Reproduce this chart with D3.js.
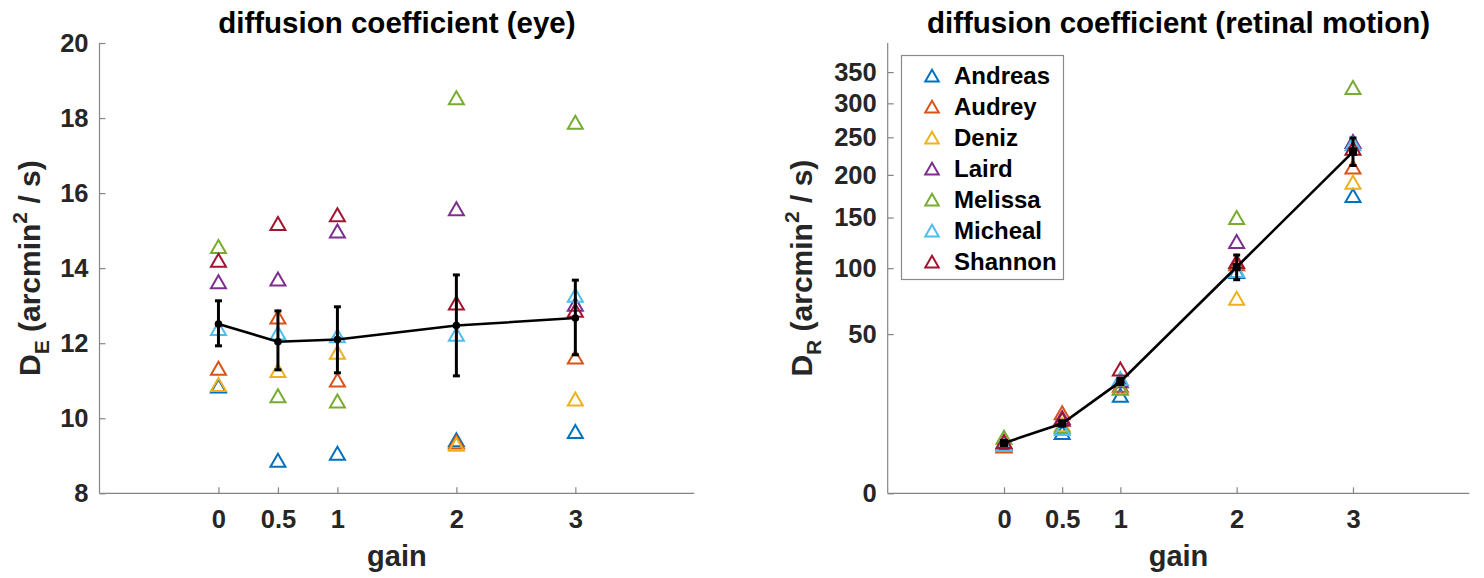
<!DOCTYPE html>
<html><head><meta charset="utf-8">
<script src="https://cdn.jsdelivr.net/npm/d3@7"></script>
<style>
body{margin:0;background:#fff}
svg{display:block}
text{font-family:"Liberation Sans",Arial,Helvetica,sans-serif;font-weight:bold}
</style>
</head><body>
<svg id="chart" width="1484" height="578"></svg>
<script>
// ---------- data ----------
const gains = [0, 0.5, 1, 2, 3];
const gainLabels = ["0", "0.5", "1", "2", "3"];
const subjects = ["Andreas", "Audrey", "Deniz", "Laird", "Melissa", "Micheal", "Shannon"];
const colors = ["#0072BD", "#D95319", "#EDB120", "#7E2F8E", "#77AC30", "#4DBEEE", "#A2142F"];

// eye diffusion coefficient (arcmin^2/s)
const eyeAndreas = [10.86, 8.88, 9.07, 9.43, 9.65];
const eyeAudrey  = [11.33, 12.70, 11.02, 9.37, 11.63];
const eyeDeniz   = [10.90, 11.27, 11.76, 9.31, 10.51];
const eyeLaird   = [13.64, 13.71, 14.99, 15.58, 13.04];
const eyeMelissa = [14.58, 10.60, 10.46, 18.54, 17.89];
const eyeMicheal = [12.39, 12.27, 12.20, 12.24, 13.28];
const eyeShannon = [14.21, 15.19, 15.42, 13.07, 12.88];
const eyeMean = [12.51, 12.04, 12.10, 12.47, 12.67];
const eyeLow  = [11.93, 11.29, 11.21, 11.13, 11.69];
const eyeHigh = [13.13, 12.86, 12.97, 13.82, 13.68];
const eyeTicks = [8, 10, 12, 14, 16, 18, 20];

// retinal motion diffusion coefficient (arcmin^2/s)
const retAndreas = [4.6, 7.3, 19.0, 97, 175];
const retAudrey  = [4.4, 12.8, 23.0, 104, 210];
const retDeniz   = [4.7, 9.3, 22.0, 75, 191];
const retLaird   = [5.0, 11.3, 25.0, 125, 244];
const retMelissa = [6.2, 8.8, 21.8, 150, 325];
const retMicheal = [4.7, 8.3, 26.0, 98, 241];
const retShannon = [5.3, 10.8, 30.5, 106, 235];
const retMean = [5.0, 9.6, 24.6, 101, 230];
const retLow  = [4.6, 9.0, 23.4, 90, 212];
const retHigh = [5.4, 10.3, 26.0, 112, 249];
const retTicks = [0, 50, 100, 150, 200, 250, 300, 350];

const eyeSeries = [eyeAndreas, eyeAudrey, eyeDeniz, eyeLaird, eyeMelissa, eyeMicheal, eyeShannon];
const retSeries = [retAndreas, retAudrey, retDeniz, retLaird, retMelissa, retMicheal, retShannon];

// ---------- drawing ----------
const svg = d3.select("#chart");
const AXIS = "#858585", TXT = "#262626";
const tri = "M0,-6.5L7.5,6.5L-7.5,6.5Z";

function panel(opt) {
  const x = d3.scaleLinear().domain([-1, 4]).range([opt.x0, opt.x1]);
  const y = opt.y;
  const g = svg.append("g");

  // axes
  const xa = g.append("g").attr("transform", `translate(0,${opt.yb})`)
    .call(d3.axisBottom(x).tickValues(gains).tickFormat((d, i) => gainLabels[i]).tickSize(-6).tickPadding(12));
  const ya = g.append("g").attr("transform", `translate(${opt.x0},0)`)
    .call(d3.axisLeft(y).tickValues(opt.ticks).tickFormat(d3.format("d")).tickSize(-6).tickPadding(11));
  [xa, ya].forEach(a => {
    a.select(".domain").attr("stroke", AXIS).attr("stroke-width", 1.2);
    a.selectAll(".tick line").attr("stroke", AXIS).attr("stroke-width", 1.2);
    a.selectAll(".tick text").attr("fill", TXT).style("font-size", "25.5px")
      .style("font-family", '"Liberation Sans",Arial,sans-serif').style("font-weight", "bold");
  });
  xa.selectAll(".tick text").attr("dy", "0.71em").attr("y", 17);
  xa.select(".domain").attr("d", `M${opt.x0},0H${opt.x1}`);
  ya.select(".domain").attr("d", `M0,${opt.yb}V${opt.yt}`);

  // scatter triangles
  opt.series.forEach((vals, si) => {
    g.append("g").selectAll("path").data(vals).join("path")
      .attr("d", tri)
      .attr("transform", (d, i) => `translate(${x(gains[i])},${y(d)})`)
      .attr("fill", "none").attr("stroke", colors[si]).attr("stroke-width", 2);
  });

  // mean line
  g.append("path").datum(opt.mean)
    .attr("d", d3.line().x((d, i) => x(gains[i])).y(d => y(d)))
    .attr("fill", "none").attr("stroke", "#000").attr("stroke-width", 2.6);
  // error bars
  const eb = g.append("g");
  gains.forEach((gv, i) => {
    const cx = x(gv);
    eb.append("line").attr("x1", cx).attr("x2", cx).attr("y1", y(opt.low[i])).attr("y2", y(opt.high[i]))
      .attr("stroke", "#000").attr("stroke-width", 3);
    [opt.low[i], opt.high[i]].forEach(v => {
      eb.append("line").attr("x1", cx - 3.5).attr("x2", cx + 3.5).attr("y1", y(v)).attr("y2", y(v))
        .attr("stroke", "#000").attr("stroke-width", 3);
    });
  });
  // mean markers
  if (opt.square) {
    g.append("g").selectAll("rect").data(opt.mean).join("rect")
      .attr("x", (d, i) => x(gains[i]) - 4).attr("y", d => y(d) - 4)
      .attr("width", 8).attr("height", 8).attr("fill", "#000");
  } else {
    g.append("g").selectAll("circle").data(opt.mean).join("circle")
      .attr("cx", (d, i) => x(gains[i])).attr("cy", d => y(d)).attr("r", 3.8).attr("fill", "#000");
  }

  // title
  g.append("text").attr("x", (opt.x0 + opt.x1) / 2).attr("y", 33).attr("text-anchor", "middle")
    .style("font-size", "29.5px").attr("fill", "#000").text(opt.title);
  // x label
  g.append("text").attr("x", (opt.x0 + opt.x1) / 2).attr("y", 566).attr("text-anchor", "middle")
    .style("font-size", "29px").attr("fill", TXT).text("gain");
  // y label
  const yl = g.append("text").attr("transform", `translate(${opt.ylx},${(opt.yb + opt.yt) / 2}) rotate(-90)`)
    .attr("text-anchor", "middle").style("font-size", "30px").attr("fill", TXT);
  yl.append("tspan").text("D");
  yl.append("tspan").attr("dy", 9).style("font-size", "21px").text(opt.sub);
  yl.append("tspan").attr("dy", -9).text(" (arcmin");
  yl.append("tspan").attr("dy", -13).style("font-size", "21px").text("2");
  yl.append("tspan").attr("dy", 13).text(" / s)");
  return { x, y };
}

panel({
  x0: 99.5, x1: 694.3, yb: 493.3, yt: 43,
  y: d3.scaleLinear().domain([8, 20]).range([493.3, 43]),
  ticks: eyeTicks, series: eyeSeries, mean: eyeMean, low: eyeLow, high: eyeHigh,
  title: "diffusion coefficient (eye)", sub: "E", ylx: 40, square: false
});
panel({
  x0: 887.7, x1: 1469.3, yb: 493.3, yt: 43,
  y: d3.scaleSqrt().domain([0, 400]).range([493.3, 43]),
  ticks: retTicks, series: retSeries, mean: retMean, low: retLow, high: retHigh,
  title: "diffusion coefficient (retinal motion)", sub: "R", ylx: 812, square: true
});

// legend
const lg = svg.append("g");
lg.append("rect").attr("x", 901.5).attr("y", 55.5).attr("width", 162).attr("height", 224)
  .attr("fill", "#fff").attr("stroke", "#8a8a8a").attr("stroke-width", 1.2);
subjects.forEach((s, i) => {
  const cy = 75.6 + i * 31;
  lg.append("path").attr("d", tri).attr("transform", `translate(932,${cy}) scale(0.9)`)
    .attr("fill", "none").attr("stroke", colors[i]).attr("stroke-width", 2.2);
  lg.append("text").attr("x", 954).attr("y", cy).attr("dy", "0.36em")
    .style("font-size", "24px").attr("fill", "#000").text(s);
});
</script>
</body></html>
